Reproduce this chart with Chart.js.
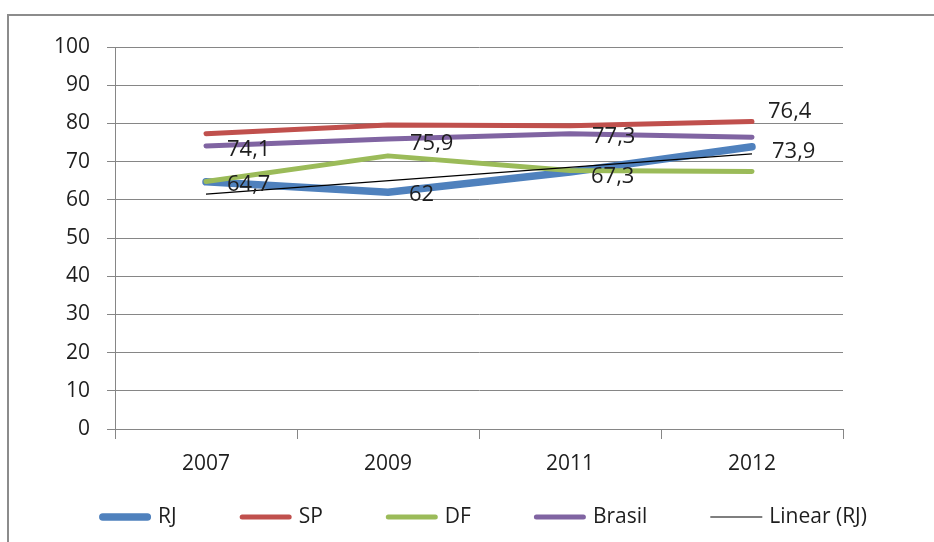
<!DOCTYPE html>
<html>
<head>
<meta charset="utf-8">
<script src="https://cdn.jsdelivr.net/npm/chart.js@4"></script>
<style>
  html, body { margin: 0; padding: 0; background: #fff; overflow: hidden; }
  #wrap { position: relative; width: 934px; height: 542px; }
  #moldura { position: absolute; left: 7px; top: 14px; width: 1000px; height: 600px; border: 2px solid #8c8c8c; }
  #grafico { position: absolute; left: 0; top: 0; }
</style>
</head>
<body>
<div id="wrap">
  <div id="moldura"></div>
  <canvas id="grafico" width="934" height="542"></canvas>
</div>
<script>
// Anos e séries
const anos = ['2007', '2009', '2011', '2012'];
const rj = [64.7, 62, 67.3, 73.9];
const sp = [77.3, 79.6, 79.4, 80.5];
const df = [64.8, 71.5, 67.7, 67.4];
const brasil = [74.1, 75.9, 77.3, 76.4];
const linearRj = [61.5, null, null, 72.0];   // tendência linear do RJ (extremos)
const yTicks = [0, 10, 20, 30, 40, 50, 60, 70, 80, 90, 100];

// deslocamento dos rótulos de valor (px) em relação ao ponto
const deslocRotulos = {
    'RJ': [[21, 3], [21, 3], [21, 5], [20, 5]],
    'Brasil': [[21, 4], [22, 5], [22, 3], [16, -25]]
};

const corTexto = '#1e1e1e';
const corGrade = '#868686';
const fonte = "'Open Sans', sans-serif";

// rótulos de valor com vírgula decimal
const rotulos = {
    id: 'rotulos',
    afterDatasetsDraw(chart) {
        let ctx = chart.ctx;
        ctx.save();
        ctx.font = '22px ' + fonte;
        ctx.fillStyle = corTexto;
        ctx.textAlign = 'left';
        ctx.textBaseline = 'middle';
        chart.data.datasets.forEach(function(ds, i) {
            let desloc = deslocRotulos[ds.label];
            if (!desloc) return;
            chart.getDatasetMeta(i).data.forEach(function(pt, j) {
                let v = ds.data[j];
                if (v === null) return;
                ctx.fillText(String(v).replace('.', ','), pt.x + desloc[j][0], pt.y + desloc[j][1]);
            });
        });
        ctx.restore();
    }
};

// legenda embaixo, amostra de linha + texto
const legenda = {
    id: 'legenda',
    afterDraw(chart) {
        let ctx = chart.ctx;
        ctx.save();
        ctx.font = '21px ' + fonte;
        let amostra = 52, folga = 7, espaco = 63;
        let itens = chart.data.datasets.map(ds => ({ ds: ds, w: amostra + folga + ctx.measureText(ds.label).width }));
        let total = itens.reduce((s, it) => s + it.w, 0) + espaco * (itens.length - 1);
        let x = 483 - total / 2;
        let y = 517;
        itens.forEach(function(it) {
            let lw = it.ds.borderWidth;
            let redondo = lw > 2;
            ctx.strokeStyle = it.ds.borderColor;
            ctx.lineWidth = lw;
            ctx.lineCap = redondo ? 'round' : 'butt';
            ctx.beginPath();
            ctx.moveTo(x + (redondo ? lw / 2 : 0), y);
            ctx.lineTo(x + amostra - (redondo ? lw / 2 : 0), y);
            ctx.stroke();
            ctx.fillStyle = corTexto;
            ctx.textAlign = 'left';
            ctx.textBaseline = 'middle';
            ctx.fillText(it.ds.label, x + amostra + folga, y);
            x += it.w + espaco;
        });
        ctx.restore();
    }
};

function serie(label, data, cor, largura, ordem) {
    return {
        label: label,
        data: data,
        borderColor: cor,
        backgroundColor: cor,
        borderWidth: largura,
        borderCapStyle: 'round',
        borderJoinStyle: 'round',
        pointRadius: 0,
        pointHoverRadius: 0,
        tension: 0,
        fill: false,
        order: ordem
    };
}

Chart.defaults.font.family = fonte;
Chart.defaults.font.size = 21;
Chart.defaults.color = corTexto;

new Chart(document.getElementById('grafico'), {
    type: 'line',
    data: {
        labels: anos,
        datasets: [
            serie('RJ', rj, '#4F81BD', 7.5, 5),
            serie('SP', sp, '#C0504D', 5, 4),
            serie('DF', df, '#9BBB59', 5, 3),
            serie('Brasil', brasil, '#8064A2', 5, 2),
            Object.assign(serie('Linear (RJ)', linearRj, '#000000', 1.2, 1), { spanGaps: true, borderCapStyle: 'butt' })
        ]
    },
    options: {
        responsive: false,
        maintainAspectRatio: false,
        animation: false,
        layout: { padding: { top: 47, right: 91, bottom: 40, left: 0 } },
        plugins: {
            legend: { display: false },
            tooltip: { enabled: false }
        },
        scales: {
            x: {
                offset: true,
                grid: { display: true, drawOnChartArea: false, offset: true, tickLength: 10, color: corGrade },
                border: { color: corGrade },
                ticks: { padding: 12, color: corTexto, font: { size: 21 } },
                afterFit: function(s) { s.height = 73; }
            },
            y: {
                min: 0,
                max: 100,
                afterBuildTicks: function(s) { s.ticks = yTicks.map(v => ({ value: v })); },
                grid: { color: corGrade, tickLength: 8 },
                border: { color: corGrade },
                ticks: { padding: 17, color: corTexto, font: { size: 21 } },
                afterFit: function(s) { s.width = 115; }
            }
        }
    },
    plugins: [rotulos, legenda]
});
</script>
</body>
</html>
